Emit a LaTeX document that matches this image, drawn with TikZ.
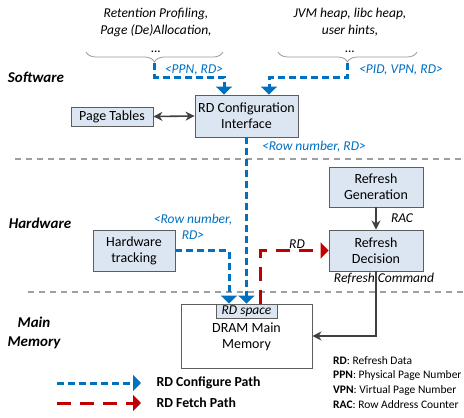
\documentclass[tikz,border=0pt]{standalone}
\usepackage{fontspec}
\setmainfont{Carlito}
\usetikzlibrary{arrows.meta,decorations.pathreplacing}

\definecolor{cfgblue}{HTML}{0070C0}
\definecolor{fetchred}{HTML}{C00000}
\definecolor{boxfill}{HTML}{DCE6F2}
\definecolor{darkline}{HTML}{404040}

\tikzset{
  blk/.style={draw=darkline!85, fill=boxfill, line width=0.9pt, align=center,
    inner sep=0pt, font=\fontsize{14}{16}\selectfont},
  cfgpath/.style={cfgblue, line width=3pt, dash pattern=on 7pt off 4pt,
    -{Triangle[width=16pt,length=8pt]}},
  fetchpath/.style={fetchred, line width=3pt, dash pattern=on 14pt off 9pt,
    -{Triangle[width=16pt,length=8pt]}},
  ctrl/.style={darkline, line width=1.6pt, -{Stealth[width=9pt,length=9pt]}},
  layer/.style={font=\bfseries\itshape\fontsize{15}{19}\selectfont, align=center},
  tag/.style={cfgblue, font=\itshape\fontsize{13.5}{16.5}\selectfont, align=center},
  note/.style={font=\itshape\fontsize{13.5}{17.5}\selectfont, align=center},
  sep/.style={gray!75, line width=1.3pt, dash pattern=on 6pt off 5pt},
  curly/.style={gray!80, line width=0.8pt, decorate,
    decoration={brace, mirror, amplitude=10pt}},
}

\begin{document}
\begin{tikzpicture}[x=1pt, y=-1pt]
  \useasboundingbox (0,0) rectangle (464,418);

  % 層の区切り線
  \draw[sep] (15,159) -- (464,159);
  \draw[sep] (28,292) -- (464,292);

  % 層の名前
  \node[layer] (lsw) at (36,77) {Software};
  \node[layer] (lhw) at (40,223) {Hardware};
  \node[layer] (lmm) at (34,333) {Main\\Memory};

  % ソフトウェアからの入力
  \node[note] (srcL) at (156,30) {Retention Profiling,\\Page (De)Allocation,\\\dots};
  \node[note] (srcR) at (350,30) {JVM heap, libc heap,\\user hints,\\\dots};
  \draw[curly] (86,52) -- (223,52);
  \draw[curly] (278,52) -- (417,52);
  \coordinate (tipL) at (154.5,63);
  \coordinate (tipR) at (347.5,63);

  % ブロック
  \node[blk, minimum width=103pt, minimum height=42pt] (cfg) at (246.5,116)
    {RD Configuration\\Interface};
  \node[blk, minimum width=82pt, minimum height=19pt] (ptab) at (112,116.5)
    {Page Tables};
  \node[blk, minimum width=94pt, minimum height=40pt] (rgen) at (376,187)
    {Refresh\\Generation};
  \node[blk, minimum width=94pt, minimum height=41pt] (rdec) at (376,250.5)
    {Refresh\\Decision};
  \node[blk, minimum width=82pt, minimum height=41pt] (hwt) at (134,250.5)
    {Hardware\\tracking};
  \node[blk, fill=white, minimum width=131pt, minimum height=64pt] (dram) at (246.5,336)
    {\\[-4pt]DRAM Main\\Memory};
  \node[blk, minimum width=61pt, minimum height=14pt, font=\itshape\fontsize{13.5}{15}\selectfont]
    (rdsp) at (246.5,311) {RD space};

  % RD 設定パス(青)
  \draw[cfgpath] (tipL) -- ++(0,14) -| ([xshift=-22.5pt]cfg.north);
  \draw[cfgpath] (tipR) -- ++(0,14) -| ([xshift=22.5pt]cfg.north);
  \draw[cfgpath] (cfg.south) -- (rdsp.north);
  \draw[cfgpath] (hwt.east) -| ([xshift=-17.5pt]rdsp.north);
  \node[tag] (tppn) at (194,70) {<PPN, RD>};
  \node[tag] (tpid) at (401,70) {<PID, VPN, RD>};
  \node[tag] (trow) at (314,147) {<Row number, RD>};
  \node[tag] (thw) at (193,227) {<Row number,\\RD>};

  % RD 取得パス(赤)
  \draw[fetchpath] ([xshift=13.5pt]rdsp.north) |- (rdec.west);
  \node[font=\itshape\fontsize{13.5}{16}\selectfont] (trd) at (297,244) {RD};

  % リフレッシュ制御
  \draw[ctrl, {Stealth[width=9pt,length=9pt]}-{Stealth[width=9pt,length=9pt]}]
    (ptab.east) -- (cfg.west);
  \draw[ctrl] (rgen.south) -- (rdec.north);
  \node[font=\itshape\fontsize{13.5}{16}\selectfont] (trac) at (402,218) {RAC};
  \draw[ctrl] (rdec.south) |- (dram.east);
  \node[font=\itshape\fontsize{13.5}{16}\selectfont] (tcmd) at (384,279) {Refresh Command};

  % 凡例
  \coordinate (lgb0) at (57,383);
  \coordinate (lgb1) at (141,383);
  \coordinate (lgr0) at (57,403);
  \coordinate (lgr1) at (141,403);
  \draw[cfgpath] (lgb0) -- (lgb1);
  \draw[fetchpath] (lgr0) -- (lgr1);
  \node[anchor=west, font=\bfseries\fontsize{13.8}{16}\selectfont] (lgbt) at (153,383) {RD Configure Path};
  \node[anchor=west, font=\bfseries\fontsize{13.8}{16}\selectfont] (lgrt) at (153,403) {RD Fetch Path};

  % 略語
  \node[anchor=north west, align=left, inner sep=0pt, font=\fontsize{11.5}{14.7}\selectfont] (abbr) at (333,356)
    {\textbf{RD}: Refresh Data\\
     \textbf{PPN}: Physical Page Number\\
     \textbf{VPN}: Virtual Page Number\\
     \textbf{RAC}: Row Address Counter};
\end{tikzpicture}
\end{document}
